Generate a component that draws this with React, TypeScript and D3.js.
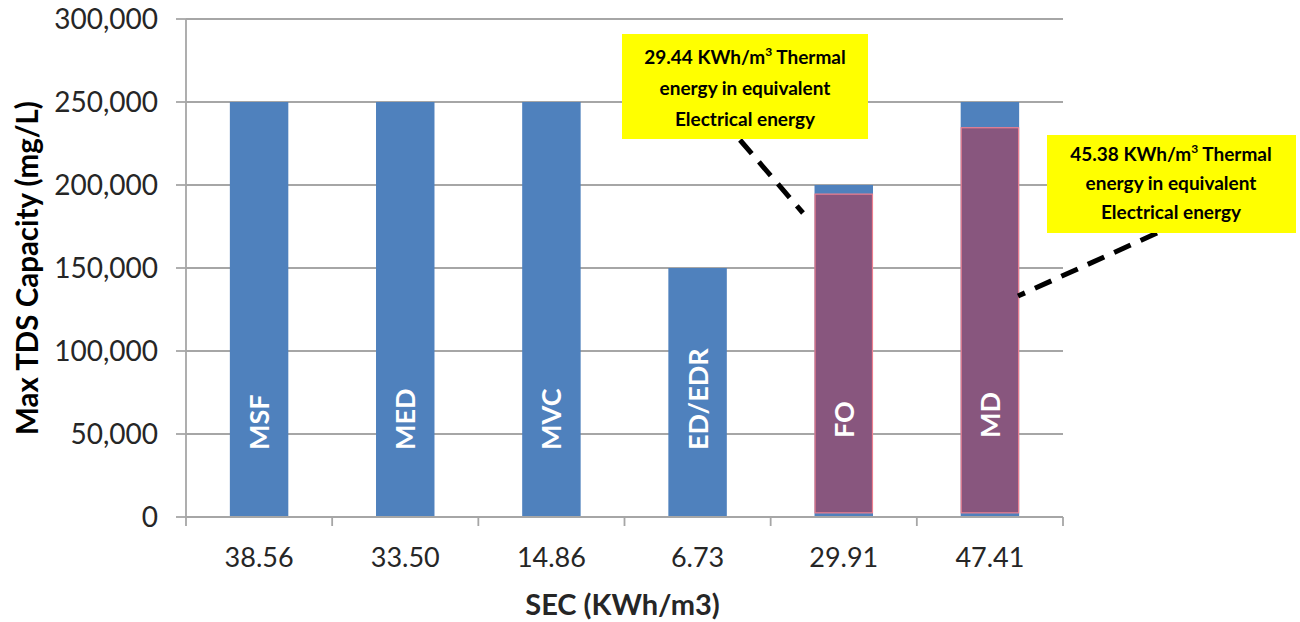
import React from "react";
import * as d3 from "d3";

const categories = ["38.56", "33.50", "14.86", "6.73", "29.91", "47.41"];
const techLabels = ["MSF", "MED", "MVC", "ED/EDR", "FO", "MD"];
const maxTDS = [250000, 250000, 250000, 150000, 200000, 250000];
const thermalStart: (number | null)[] = [null, null, null, null, 2500, 2500];
const thermalEnd: (number | null)[] = [null, null, null, null, 194500, 234500];
const yTicks = [0, 50000, 100000, 150000, 200000, 250000, 300000];
const note1 = ["29.44 KWh/m", "3", " Thermal", "energy in equivalent", "Electrical energy"];
const note2 = ["45.38 KWh/m", "3", " Thermal", "energy in equivalent", "Electrical energy"];

const W = 1300;
const H = 622;
const left = 186;
const right = 1063;
const top = 19;
const bottom = 517;

const FONT = "Lato, 'Open Sans', sans-serif";
const GRID = "#a6a6a6";

export default function App() {
  const x = d3
    .scaleBand<number>()
    .domain(categories.map((_, i) => i))
    .range([left, right])
    .paddingInner(0.6)
    .paddingOuter(0.3);
  const y = d3.scaleLinear().domain([0, 300000]).range([bottom, top]);
  const fmt = d3.format(",");
  const step = x.step();
  const boundaries = d3.range(categories.length + 1).map((i) => left + i * step);

  const note = (lines: string[], cx: number, y0: number, dy: number) => (
    <text fontFamily={FONT} fontWeight={700} fontSize={19} textAnchor="middle" fill="#000">
      <tspan x={cx} y={y0}>
        {lines[0]}
        <tspan fontSize={12} dy={-8}>
          {lines[1]}
        </tspan>
        <tspan dy={8}>{lines[2]}</tspan>
      </tspan>
      <tspan x={cx} y={y0 + dy}>
        {lines[3]}
      </tspan>
      <tspan x={cx} y={y0 + 2 * dy}>
        {lines[4]}
      </tspan>
    </text>
  );

  return (
    <svg
      width={W}
      height={H}
      style={{ position: "absolute", left: 0, top: 0, background: "#fff" }}
    >
      <rect x={0} y={0} width={W} height={H} fill="#fff" />
      {yTicks
        .filter((t) => t > 0)
        .map((t) => (
          <line key={t} x1={left} x2={right} y1={y(t)} y2={y(t)} stroke={GRID} strokeWidth={1.8} />
        ))}
      {maxTDS.map((v, i) => (
        <rect
          key={"b" + i}
          x={x(i)}
          y={y(v)}
          width={x.bandwidth()}
          height={y(0) - y(v)}
          fill="#4f81bd"
        />
      ))}
      {thermalEnd.map((v, i) =>
        v == null ? null : (
          <rect
            key={"t" + i}
            x={x(i)! + 0.5}
            y={y(v)}
            width={x.bandwidth() - 1}
            height={y(thermalStart[i] as number) - y(v)}
            fill="#88567e"
            stroke="#ee8090"
            strokeWidth={1.2}
          />
        )
      )}
      {techLabels.map((t, i) => {
        const cx = x(i)! + x.bandwidth() / 2;
        const sy = thermalEnd[i] == null ? bottom - 67 : bottom - 79;
        return (
          <text
            key={"l" + i}
            transform={`translate(${cx + 10},${sy}) rotate(-90)`}
            fontFamily={FONT}
            fontWeight={700}
            fontSize={27}
            fill="#fff"
            textAnchor="start"
          >
            {t}
          </text>
        );
      })}
      <line x1={left} x2={left} y1={top} y2={bottom} stroke={GRID} strokeWidth={1.8} />
      <line x1={left} x2={right} y1={bottom} y2={bottom} stroke={GRID} strokeWidth={1.8} />
      {yTicks.map((t) => (
        <line key={"yt" + t} x1={left - 10} x2={left} y1={y(t)} y2={y(t)} stroke={GRID} strokeWidth={1.8} />
      ))}
      {boundaries.map((bx, i) => (
        <line key={"xt" + i} x1={bx} x2={bx} y1={bottom} y2={bottom + 9} stroke={GRID} strokeWidth={1.8} />
      ))}
      {yTicks.map((t) => (
        <text
          key={"yl" + t}
          x={158}
          y={y(t) + 10}
          textAnchor="end"
          fontFamily={FONT}
          fontSize={28}
          fill="#262626"
        >
          {fmt(t)}
        </text>
      ))}
      {categories.map((c, i) => (
        <text
          key={"xl" + i}
          x={x(i)! + x.bandwidth() / 2}
          y={567}
          textAnchor="middle"
          fontFamily={FONT}
          fontSize={27}
          fill="#262626"
        >
          {c}
        </text>
      ))}
      <text
        x={(left + right) / 2 - 2}
        y={615}
        textAnchor="middle"
        fontFamily={FONT}
        fontWeight={700}
        fontSize={29}
        fill="#262626"
      >
        SEC (KWh/m3)
      </text>
      <text
        transform={`translate(38,268) rotate(-90)`}
        textAnchor="middle"
        fontFamily={FONT}
        fontWeight={700}
        fontSize={29.5}
        fill="#000"
      >
        Max TDS Capacity (mg/L)
      </text>
      <line x1={740} y1={140} x2={803} y2={213} stroke="#000" strokeWidth={5} strokeDasharray="18 11" />
      <line x1={1157} y1={233} x2={1018} y2={296} stroke="#000" strokeWidth={5} strokeDasharray="18 11" />
      <rect x={622} y={34} width={246} height={105} fill="#ffff00" />
      {note(note1, 745, 64, 31)}
      <rect x={1047} y={135} width={249} height={98} fill="#ffff00" />
      {note(note2, 1171, 161, 29)}
    </svg>
  );
}
